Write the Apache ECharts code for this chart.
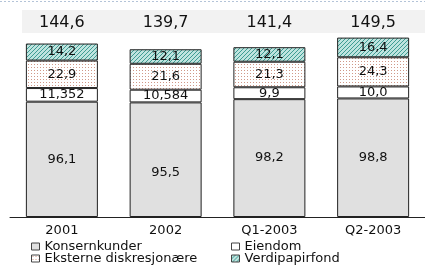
<!DOCTYPE html>
<html>
<head>
<meta charset="utf-8">
<script src="https://cdn.jsdelivr.net/npm/echarts@6/dist/echarts.min.js"></script>
<style>
  html, body { margin: 0; padding: 0; background: #fff; }
  #chart { width: 425px; height: 265px; }
</style>
</head>
<body>
<div id="chart"></div>
<script>
// kategorier og verdier (mrd)
const categories = ['2001', '2002', 'Q1-2003', 'Q2-2003']
const totals = [144.6, 139.7, 141.4, 149.5]
const konsernkunder = [96.1, 95.5, 98.2, 98.8]
const eiendom = [11.352, 10.584, 9.9, 10.0]
const eksterne = [22.9, 21.6, 21.3, 24.3]
const verdipapirfond = [14.2, 12.1, 12.1, 16.4]

const font = 'DejaVu Sans, Verdana, sans-serif'

// norsk desimalformat
function fmt(v) {
  const s = String(v)
  const dec = s.indexOf('.') >= 0 ? s.split('.')[1].length : 1
  return v.toFixed(dec).replace('.', ',')
}

function makePattern(w, h, bg, fg, pixels) {
  const c = document.createElement('canvas')
  c.width = w
  c.height = h
  const ctx = c.getContext('2d')
  ctx.fillStyle = bg
  ctx.fillRect(0, 0, w, h)
  ctx.fillStyle = fg
  pixels.forEach(p => ctx.fillRect(p[0], p[1], 1, 1))
  return { image: c, repeat: 'repeat' }
}

const dots = makePattern(3, 3, '#ffffff', '#d09888', [[1, 1]])
const hatch = makePattern(4, 4, '#bfe4df', '#3f9c93', [[0, 3], [1, 2], [2, 1], [3, 0]])

const border = { borderColor: '#222', borderWidth: 1 }
const labelStyle = { show: true, position: 'inside', color: '#111', fontSize: 13, fontFamily: font, formatter: p => fmt(p.value) }

function series(name, data, color) {
  return {
    name: name,
    type: 'bar',
    stack: 'total',
    barWidth: 72,
    data: data,
    itemStyle: Object.assign({ color: color }, border),
    label: labelStyle,
    emphasis: { disabled: true }
  }
}

const legendBase = {
  top: 240, height: 40, padding: 0, orient: 'vertical', icon: 'rect',
  itemWidth: 8, itemHeight: 7, itemGap: -1,
  itemStyle: { borderColor: '#444', borderWidth: 1 },
  textStyle: { fontSize: 13, color: '#111', fontFamily: font, lineHeight: 13 }
}

const chart = echarts.init(document.getElementById('chart'))
chart.setOption({
  animation: false,
  textStyle: { fontFamily: font },
  grid: { left: 10, right: -10, top: 37, bottom: 48 },
  graphic: [
    { type: 'line', z: -1, shape: { x1: 0, y1: 1.5, x2: 425, y2: 1.5 }, style: { stroke: '#b4c4d8', lineWidth: 1, lineDash: [2, 2] } },
    { type: 'rect', z: -1, shape: { x: 22, y: 10, width: 403, height: 23 }, style: { fill: '#f2f2f2' } }
  ],
  legend: [
    Object.assign({ left: 31, data: ['Konsernkunder', 'Eksterne diskresjonære'] }, legendBase),
    Object.assign({ left: 231, data: ['Eiendom', 'Verdipapirfond'] }, legendBase)
  ],
  xAxis: [
    {
      type: 'category',
      data: categories,
      axisLine: { lineStyle: { color: '#222' } },
      axisTick: { show: false },
      axisLabel: { color: '#111', fontSize: 13, margin: 7, fontFamily: font }
    },
    {
      type: 'category',
      position: 'top',
      data: categories,
      axisLine: { show: false },
      axisTick: { show: false },
      axisLabel: { color: '#111', fontSize: 16, margin: 6, fontFamily: font, formatter: (v, i) => fmt(totals[i]) }
    }
  ],
  yAxis: { type: 'value', min: 0, max: 150, show: false },
  series: [
    // etiketten for 2002 står lavere i originalen
    series('Konsernkunder', konsernkunder.map((v, i) => i === 1 ? { value: v, label: { offset: [0, 13] } } : v), '#e0e0e0'),
    series('Eiendom', eiendom, '#ffffff'),
    series('Eksterne diskresjonære', eksterne, dots),
    series('Verdipapirfond', verdipapirfond, hatch)
  ]
})
</script>
</body>
</html>
